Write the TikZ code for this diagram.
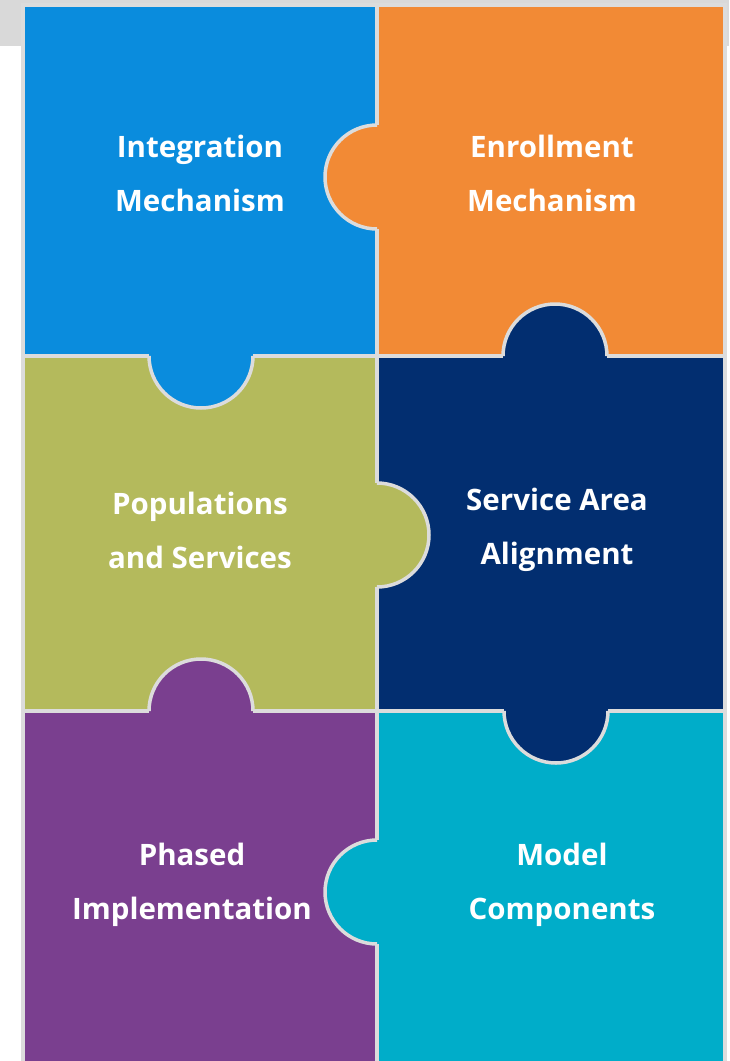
\documentclass[tikz,border=0pt]{standalone}
\usepackage{fontspec}
\setmainfont{Open Sans}
\usetikzlibrary{positioning}

\definecolor{bandGray}{HTML}{D9D9D9}
\definecolor{edgeGray}{HTML}{DCDCDC}
\definecolor{pzBlue}{HTML}{0A8CDD}
\definecolor{pzOrange}{HTML}{F28A35}
\definecolor{pzOlive}{HTML}{B4BA5C}
\definecolor{pzNavy}{HTML}{022E70}
\definecolor{pzPurple}{HTML}{7A3F8F}
\definecolor{pzTeal}{HTML}{00ADC9}

\tikzset{
  piece/.style={draw=edgeGray, line width=3.5pt},
  tabedge/.style={draw=edgeGray, line width=3.5pt},
  pztext/.style={text=white, align=center,
    font=\bfseries\fontsize{29.5}{54}\selectfont}
}

\begin{document}
\begin{tikzpicture}[x=1pt,y=-1pt]
  \useasboundingbox (0,0) rectangle (729,1061);
  \clip (0,0) rectangle (729,1061);
  \fill[bandGray] (0,0) rectangle (729,46);

  % the six pieces
  \filldraw[piece,fill=pzBlue]   (23,5)    rectangle (377,356);
  \filldraw[piece,fill=pzOrange] (377,5)   rectangle (725,356);
  \filldraw[piece,fill=pzOlive]  (23,356)  rectangle (377,711);
  \filldraw[piece,fill=pzNavy]   (377,356) rectangle (725,711);
  \filldraw[piece,fill=pzPurple] (23,711)  rectangle (377,1080);
  \filldraw[piece,fill=pzTeal]   (377,711) rectangle (725,1080);

  % tabs
  \fill[pzBlue] (201,356) circle (52pt);
  \draw[tabedge] (149,356) arc[start angle=180, end angle=360, radius=52pt];

  \fill[pzOrange] (377,177) circle (52pt);
  \draw[tabedge] (377,125) arc[start angle=90, end angle=270, radius=52pt];

  \fill[pzNavy] (555,356) circle (52pt);
  \draw[tabedge] (607,356) arc[start angle=0, end angle=180, radius=52pt];

  \fill[pzOlive] (377,535) circle (52pt);
  \draw[tabedge] (377,483) arc[start angle=90, end angle=-90, radius=52pt];

  \fill[pzPurple] (201,711) circle (52pt);
  \draw[tabedge] (253,711) arc[start angle=0, end angle=180, radius=52pt];

  \fill[pzNavy] (556,711) circle (52pt);
  \draw[tabedge] (504,711) arc[start angle=180, end angle=360, radius=52pt];

  \fill[pzTeal] (377,892) circle (52pt);
  \draw[tabedge] (377,840) arc[start angle=90, end angle=270, radius=52pt];

  % labels
  \node[pztext] (integ) at (200,173) {Integration\\Mechanism};
  \node[pztext] (enrol) at (552,173) {Enrollment\\Mechanism};
  \node[pztext] (popul) at (200,530) {Populations\\and Services};
  \node[pztext] (align) at (557,530) {Service Area\\Alignment};
  \node[pztext] (phase) at (192,885) {Phased\\Implementation};
  \node[pztext] (model) at (562,885) {Model\\Components};
\end{tikzpicture}
\end{document}
